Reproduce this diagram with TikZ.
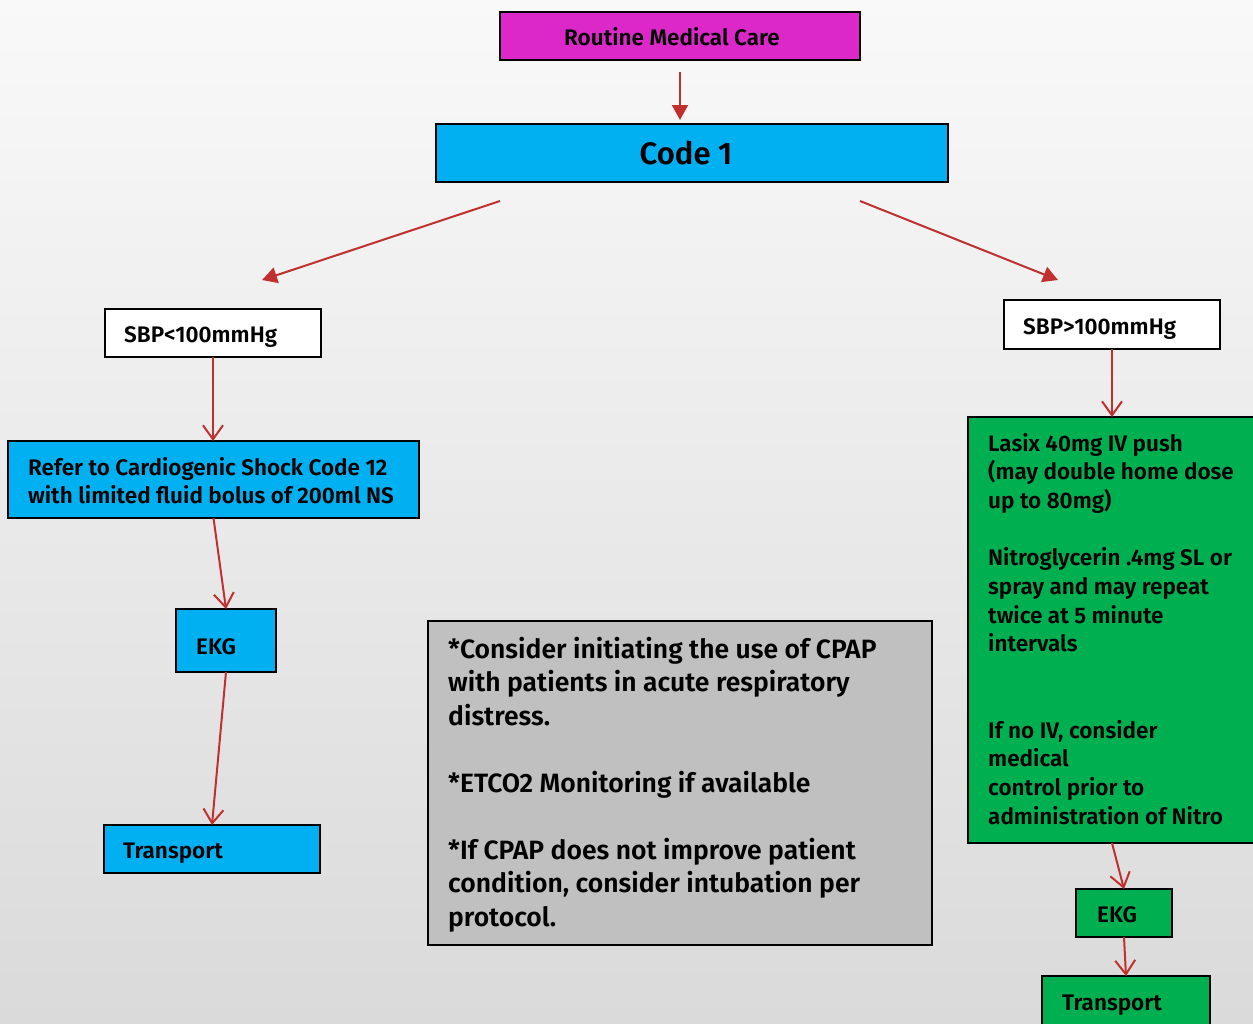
\documentclass[tikz,border=0pt]{standalone}
\usepackage{fontspec}
\setmainfont{Fira Sans}[UprightFont={* SemiBold}]
\usetikzlibrary{arrows.meta,calc}

\definecolor{magentabox}{HTML}{DC28C8}
\definecolor{cyanbox}{HTML}{00B0F0}
\definecolor{greenbox}{HTML}{00B050}
\definecolor{graybox}{HTML}{C0C0C0}
\definecolor{arrowred}{HTML}{C0302F}
\definecolor{bgtop}{HTML}{F9F9F9}
\definecolor{bgbottom}{HTML}{DADADA}

% top-aligned paragraph whose baseline is its first line
\newcommand{\toplines}[2]{\parbox[t]{#1}{\raggedright #2}}

\begin{document}
\begin{tikzpicture}[x=1pt,y=-1pt,
  box/.style={draw=black, line width=1.6pt, rectangle, inner sep=0pt, outer sep=0pt, anchor=north west},
  lbl/.style={inner sep=0pt, anchor=base west, font=\fontsize{22.5}{28.7}\selectfont},
  filledarrow/.style={draw=arrowred, line width=2pt, -{Triangle[length=15pt,width=16pt]}},
  openarrow/.style={draw=arrowred, line width=2pt, -{Straight Barb[length=14pt,width=20pt,line width=2pt]}}]

  % page and background
  \useasboundingbox (0,0) rectangle (1253,1023);
  \clip (0,0) rectangle (1253,1023);
  \shade[top color=bgtop, bottom color=bgbottom] (0,0) rectangle (1253,1023);

  % boxes
  \node[box, fill=magentabox, minimum width=360pt, minimum height=48pt] (rmc) at (500,12) {};
  \node[box, fill=cyanbox, line width=2.6pt, minimum width=512pt, minimum height=58pt] (code1) at (436,124) {};
  \node[box, fill=white, minimum width=216pt, minimum height=48pt] (sbpl) at (105,309) {};
  \node[box, fill=cyanbox, minimum width=411pt, minimum height=77pt] (refer) at (8,441) {};
  \node[box, fill=cyanbox, minimum width=100pt, minimum height=63pt] (ekgl) at (176,609) {};
  \node[box, fill=cyanbox, minimum width=216pt, minimum height=48pt] (transl) at (104,825) {};
  \node[box, fill=white, minimum width=216pt, minimum height=49pt] (sbpr) at (1004,300) {};
  \node[box, fill=greenbox, minimum width=288pt, minimum height=426pt] (green) at (968,417) {};
  \node[box, fill=greenbox, minimum width=96pt, minimum height=48pt] (ekgr) at (1076,889) {};
  \node[box, fill=greenbox, minimum width=168pt, minimum height=52pt] (transr) at (1042,976) {};
  \node[box, fill=graybox, minimum width=504pt, minimum height=324pt] (note) at (428,621) {};

  % texts
  \node[lbl, anchor=base] (rmc-t) at (672,45) {Routine Medical Care};
  \node[lbl, anchor=base, font=\fontsize{31}{36}\selectfont] (code1-t) at (686,164) {Code 1};
  \node[lbl] (sbpl-t) at (124,342) {SBP<100mmHg};
  \node[lbl] (refer-t) at (28,475) {\toplines{400pt}{Refer to Cardiogenic Shock Code 12\\with limited fluid bolus of 200ml NS}};
  \node[lbl] (ekgl-t) at (196,654) {EKG};
  \node[lbl] (transl-t) at (123,858) {Transport};
  \node[lbl] (sbpr-t) at (1023,334) {SBP>100mmHg};
  \node[lbl] (green-t) at (988,451) {\toplines{270pt}{Lasix 40mg IV push\\(may double home dose\\up to 80mg)\\[28.7pt]%
    Nitroglycerin .4mg SL or\\spray and may repeat\\twice at 5 minute\\intervals\\[57.4pt]%
    If no IV, consider\\medical\\control prior to\\administration of Nitro}};
  \node[lbl] (ekgr-t) at (1097,922) {EKG};
  \node[lbl] (transr-t) at (1062,1010) {Transport};
  \node[lbl, font=\fontsize{26.5}{33.5}\selectfont] (note-t) at (448,658) {\toplines{480pt}{*Consider initiating the use of CPAP\\with patients in acute respiratory\\distress.\\[33.5pt]%
    *ETCO2 Monitoring if available\\[33.5pt]%
    *If CPAP does not improve patient\\condition, consider intubation per\\protocol.}};

  % connectors
  \draw[filledarrow] ([yshift=-12pt]rmc.south -| 680,0) -- ([yshift=4pt]code1.north -| 680,0);
  \draw[filledarrow] ($(code1.south west)+(64,19)$) -- ($(sbpl.north west)+(157,-29)$);
  \draw[filledarrow] ($(code1.south east)+(-88,19)$) -- ($(sbpr.north west)+(54,-20)$);
  \draw[openarrow] (sbpl.south) -- (sbpl.south |- refer.north);
  \draw[openarrow] (refer.south) -- (ekgl.north);
  \draw[openarrow] (ekgl.south) -- (transl.north);
  \draw[openarrow] (sbpr.south) -- (sbpr.south |- green.north);
  \draw[openarrow] (green.south) -- (ekgr.north);
  \draw[openarrow] (ekgr.south) -- (transr.north);
\end{tikzpicture}
\end{document}
